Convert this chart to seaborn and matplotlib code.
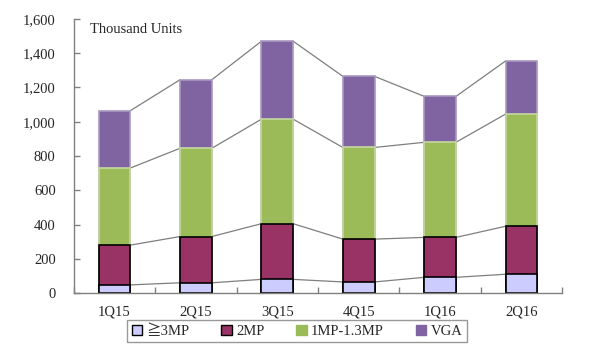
import numpy as np
import pandas as pd
import matplotlib
matplotlib.use('Agg')
import matplotlib.pyplot as plt
import seaborn as sns
from matplotlib.patches import Patch

# data (thousand units)
quarters = ['1Q15', '2Q15', '3Q15', '4Q15', '1Q16', '2Q16']
series = ['≧3MP', '2MP', '1MP-1.3MP', 'VGA']
mp3 = [48, 60, 80, 65, 92, 110]
mp2 = [232, 270, 325, 250, 233, 280]
mp1 = [450, 515, 610, 535, 555, 655]
vga = [335, 400, 455, 415, 268, 310]

colors = ['#CCCCFF', '#993366', '#9BBB59', '#8064A2']
edges = ['black', 'black', '#C5D9A0', '#A898C0']

sns.set_style('white')
plt.rcParams['font.family'] = ['Liberation Serif', 'Noto Sans CJK JP', 'DejaVu Serif']
plt.rcParams['font.size'] = 10.5

values = np.array([mp3, mp2, mp1, vga], dtype=float)
cum = np.cumsum(values, axis=0)

fig = plt.figure(figsize=(6, 3.51), dpi=100)
ax = fig.add_axes([0.123, 0.165, 0.814, 0.781])

width = 0.39
# draw cumulative bars from the top series down so each layer overlaps the next
for k in range(3, -1, -1):
    df = pd.DataFrame({'quarter': quarters, 'value': cum[k]})
    sns.barplot(data=df, x='quarter', y='value', order=quarters, color=colors[k],
                width=width, saturation=1, edgecolor=edges[k], linewidth=1.2,
                ax=ax, zorder=2)

# series lines between bar tops
for k in range(4):
    for i in range(len(quarters) - 1):
        ax.plot([i + width / 2, i + 1 - width / 2], [cum[k][i], cum[k][i + 1]],
                color='#7F7F7F', lw=0.9, zorder=1)

ax.set_xlim(-0.5, 5.5)
ax.set_ylim(0, 1600)
ax.set_yticks(np.arange(0, 1601, 200))
ax.set_yticklabels([f'{v:,}' for v in range(0, 1601, 200)])
ax.set_xticks(range(len(quarters)))
ax.set_xticklabels(quarters)
ax.set_xticks(np.arange(-0.5, 6, 1), minor=True)
ax.set_xlabel('')
ax.set_ylabel('')

for s in ['top', 'right']:
    ax.spines[s].set_visible(False)
for s in ['left', 'bottom']:
    ax.spines[s].set_color('#808080')
    ax.spines[s].set_linewidth(1)

ax.tick_params(axis='y', direction='in', length=4, color='#808080', width=1,
               left=True, pad=13, labelsize=10.5)
ax.tick_params(axis='x', which='major', length=0, pad=9, labelsize=10.5)
ax.tick_params(axis='x', which='minor', direction='in', length=4,
               color='#808080', width=1, bottom=True)

ax.text(0.033, 0.985, 'Thousand Units', transform=ax.transAxes,
        ha='left', va='top', fontsize=10.5)

handles = [Patch(facecolor=colors[k], edgecolor='black' if k < 2 else colors[k],
                 linewidth=1) for k in range(4)]
leg = fig.legend(handles, series, loc='center', bbox_to_anchor=(0.495, 0.057),
                 ncol=4, frameon=True, fancybox=False, shadow=False,
                 handlelength=0.7, handleheight=0.7, handletextpad=0.3,
                 columnspacing=2.2, borderpad=0.3, fontsize=10.5)
leg.get_frame().set_edgecolor('#808080')
leg.get_frame().set_linewidth(1)

fig.savefig('out.png', dpi=100)
